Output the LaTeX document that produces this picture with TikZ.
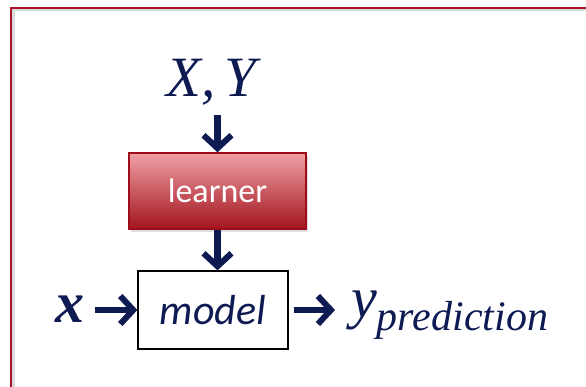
\documentclass[tikz,border=0pt]{standalone}
\usepackage{fontspec}
\setmainfont{Liberation Serif}
\newfontfamily\boxfont{Carlito}
\usepackage{tikz}
\usetikzlibrary{arrows.meta, positioning, shadows, calc}
\definecolor{framered}{HTML}{A8122A}
\definecolor{learntop}{HTML}{EFA0A5}
\definecolor{learnbot}{HTML}{A3141E}
\definecolor{learnedge}{HTML}{9E0B1B}
\definecolor{inknavy}{HTML}{0E1A52}
\tikzset{
  % Blocks
  learnerbox/.style={
    rectangle, minimum width=177pt, minimum height=76pt,
    draw=learnedge, line width=1.4pt, top color=learntop, bottom color=learnbot,
    text=white, font=\boxfont\fontsize{34}{34}\selectfont,
    drop shadow={shadow xshift=2pt, shadow yshift=-3pt, opacity=0.25},
  },
  modelbox/.style={
    rectangle, minimum width=150pt, minimum height=78pt,
    draw=black, line width=1.3pt, fill=white,
    text=inknavy, font=\boxfont\itshape\fontsize{42}{42}\selectfont,
  },
  % Math-like labels
  mathlabel/.style={text=inknavy, inner sep=0pt, font=\itshape\fontsize{#1}{#1}\selectfont},
  mathlabel/.default={57},
  % Arrows
  flow/.style={-{Straight Barb[length=13pt, width=28pt, line width=6pt]}, line width=6.5pt, draw=inknavy},
}

\begin{document}
\begin{tikzpicture}[x=1pt, y=-1pt]
  \useasboundingbox (0,0) rectangle (586,387);
  \clip (0,0) rectangle (586,387);

  % Frame
  \draw[black!15, line width=3pt] (13,402) |- (600,10);
  \draw[framered, line width=1.8pt] (11,400) |- (600,8);

  % Blocks
  \node[learnerbox] (learner) at (217.5,191) {learner};
  \node[modelbox] (model) at (213,310) {model};

  % Inputs and output
  \node[mathlabel, anchor=base] (xy) at (211.5,97) {X,\,Y};
  \node[mathlabel=58, anchor=base, font=\bfseries\itshape\fontsize{58}{58}\selectfont] (xin) at (70,322) {x};
  \node[mathlabel=58, anchor=base west] (ypred) at (351,317)
    {y\raisebox{-13pt}{\fontsize{42}{42}\selectfont prediction}};

  % Arrows
  \draw[flow, shorten <=9pt] (xy.south -| learner) -- (learner.north);
  \draw[flow] (learner.south) -- (learner.south |- model.north);
  \draw[flow, shorten <=10pt] (xin.east |- model.west) -- (model.west);
  \draw[flow, shorten <=5pt, shorten >=16pt] (model.east) -- (ypred.west |- model.east);

\end{tikzpicture}
\end{document}
